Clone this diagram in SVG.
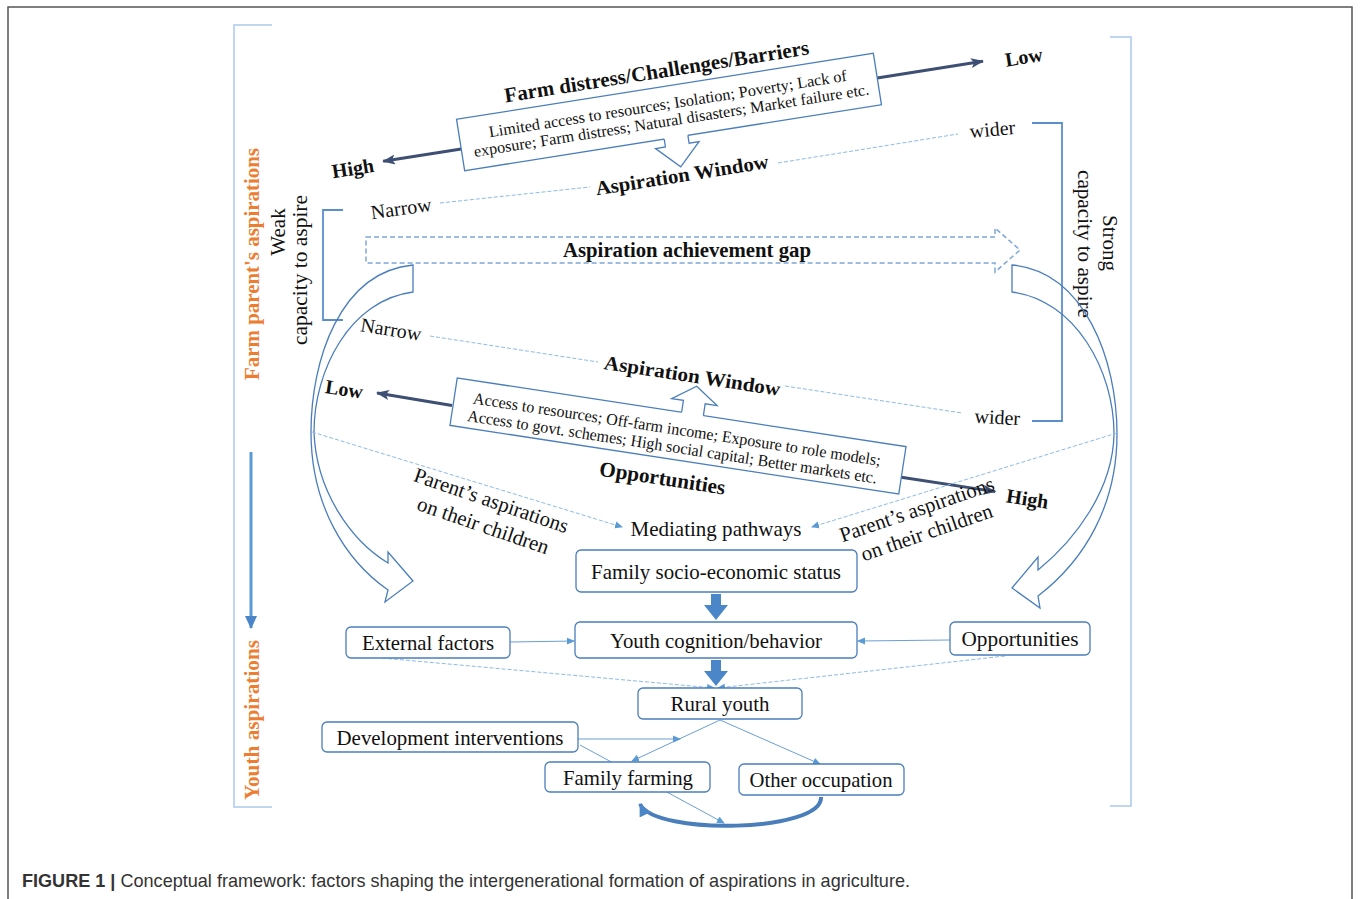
<svg xmlns="http://www.w3.org/2000/svg" width="1360" height="899" viewBox="0 0 1360 899">
<style>
.t{font-family:"Liberation Serif","Times New Roman",serif;fill:#111}
.b{font-weight:bold}
.box{fill:#fff;stroke:#4a7ebb;stroke-width:1.3}
.dl{fill:none;stroke:#8dbbe8;stroke-width:1;stroke-dasharray:4 2}
.ln{fill:none;stroke:#6a9fd6;stroke-width:1}
.br{fill:none;stroke:#5b8fcc;stroke-width:1.8}
.obr{fill:none;stroke:#a9c9ea;stroke-width:1.5}
.dk{fill:none;stroke:#3d4f72;stroke-width:3}
.ho{fill:none;stroke:#4a7ebb;stroke-width:1.3}
.cu{fill:none;stroke:#4a7ebb;stroke-width:1.3}
.or{font-family:"Liberation Serif","Times New Roman",serif;font-weight:bold;fill:#ed7d31;font-size:22px}
.cap{font-family:"Liberation Sans",Arial,sans-serif;fill:#333;font-size:19px}
</style>
<defs>
<marker id="mdk" markerUnits="userSpaceOnUse" markerWidth="14" markerHeight="10" refX="12" refY="5" orient="auto"><path d="M0,0 L13,5 L0,10 L3,5 Z" fill="#3d4f72"/></marker>
<marker id="ml" markerUnits="userSpaceOnUse" markerWidth="8" markerHeight="8" refX="7" refY="4" orient="auto"><path d="M0,0.5 L8,4 L0,7.5 Z" fill="#5b9bd5"/></marker>
<marker id="mb" markerUnits="userSpaceOnUse" markerWidth="14" markerHeight="12" refX="12" refY="6" orient="auto"><path d="M0,0 L13,6 L0,12 Z" fill="#4a86c8"/></marker>
</defs>

<rect x="8" y="7" width="1344" height="905" fill="none" stroke="#555" stroke-width="1.5"/>

<!-- outer brackets and side labels -->
<g id="side-left">
<path class="obr" d="M272,25 L234,25 L234,807 L272,807"/>
<text class="or" transform="translate(259,264) rotate(-90)" text-anchor="middle" textLength="232" lengthAdjust="spacingAndGlyphs">Farm parent's aspirations</text>
<text class="or" transform="translate(259,720) rotate(-90)" text-anchor="middle" textLength="160" lengthAdjust="spacingAndGlyphs">Youth aspirations</text>
<line x1="251" y1="452" x2="251" y2="628" stroke="#5b9bd5" stroke-width="3" marker-end="url(#mb)"/>
</g>
<g id="side-right">
<path class="obr" d="M1110,37 L1131,37 L1131,806 L1110,806"/>
</g>

<g id="weak">
<text class="t" font-size="21" transform="translate(285,232) rotate(-90)" text-anchor="middle">Weak</text>
<text class="t" font-size="21" transform="translate(307,270) rotate(-90)" text-anchor="middle" textLength="150" lengthAdjust="spacingAndGlyphs">capacity to aspire</text>
<path class="br" d="M343,210 L323,210 L323,320 L343,320"/>
</g>
<g id="strong">
<text class="t" font-size="21" transform="translate(1103,243) rotate(90)" text-anchor="middle">Strong</text>
<text class="t" font-size="21" transform="translate(1078,244) rotate(90)" text-anchor="middle" textLength="148" lengthAdjust="spacingAndGlyphs">capacity to aspire</text>
<path class="br" d="M1032,123 L1062,123 L1062,421 L1032,421"/>
</g>

<!-- top: challenges -->
<g id="challenges" transform="translate(669,112) rotate(-9)">
<line class="dk" x1="-211" y1="4" x2="-290" y2="4" marker-end="url(#mdk)"/>
<line class="dk" x1="211" y1="-1" x2="318" y2="-1" marker-end="url(#mdk)"/>
<rect class="box" x="-211" y="-26" width="422" height="52"/>
<path d="M-9,24 L15,24 L15,34 L25,34 L3,56 L-19,34 L-9,34 Z" fill="#fff"/>
<path class="cu" d="M-9,26 L-9,34 L-19,34 L3,56 L25,34 L15,34 L15,26"/>
<text class="t" font-size="16" x="0" y="-3" text-anchor="middle" textLength="362" lengthAdjust="spacingAndGlyphs">Limited access to resources; Isolation; Poverty; Lack of</text>
<text class="t" font-size="16" x="1" y="14" text-anchor="middle" textLength="400" lengthAdjust="spacingAndGlyphs">exposure; Farm distress; Natural disasters; Market failure etc.</text>
<text class="t b" font-size="21" x="-6" y="-35" text-anchor="middle" textLength="308" lengthAdjust="spacingAndGlyphs">Farm distress/Challenges/Barriers</text>
<text class="t b" font-size="20" x="-321" y="13" text-anchor="middle">High</text>
<text class="t b" font-size="20" x="359" y="8" text-anchor="middle">Low</text>
<text class="t b" font-size="20" x="3" y="71" text-anchor="middle" textLength="175" lengthAdjust="spacingAndGlyphs">Aspiration Window</text>
</g>
<g id="top-window">
<line class="dl" x1="440" y1="203" x2="590" y2="187"/>
<line class="dl" x1="778" y1="163" x2="958" y2="134"/>
<text class="t" font-size="20" transform="translate(402,215) rotate(-8)" text-anchor="middle">Narrow</text>
<text class="t" font-size="20" transform="translate(993,136) rotate(-5)" text-anchor="middle">wider</text>
</g>

<!-- aspiration achievement gap -->
<g id="gap">
<path d="M366,237 L995,237 L995,228 L1020,250 L995,272 L995,263 L366,263 Z" fill="none" stroke="#7ca6d8" stroke-width="1.5" stroke-dasharray="5 3"/>
<text class="t b" font-size="20" x="687" y="257" text-anchor="middle" textLength="248" lengthAdjust="spacingAndGlyphs">Aspiration achievement gap</text>
</g>

<!-- curved hollow arrows -->
<g id="curve-left">
<path class="ho" d="M413,265 C 340,272 311,360 311,432 C 311,505 345,560 388,590 L385,602 L413,581 L388,552 L388,563 C 350,540 316,490 314,432 C 314,370 350,300 413,292 Z"/>
</g>
<g id="curve-right">
<path class="ho" d="M1012,265 C 1085,272 1117,360 1117,434 C 1117,505 1085,560 1038,596 L1040,608 L1012,588 L1038,557 L1038,570 C 1075,540 1113,490 1114,434 C 1114,370 1075,300 1012,292 Z"/>
</g>

<!-- middle: opportunities -->
<g id="middle-window">
<line class="dl" x1="430" y1="336" x2="598" y2="362"/>
<line class="dl" x1="785" y1="386" x2="962" y2="413"/>
<text class="t" font-size="20" transform="translate(390,336) rotate(9)" text-anchor="middle">Narrow</text>
<text class="t" font-size="20" transform="translate(997,424) rotate(3)" text-anchor="middle">wider</text>
</g>
<g id="opportunities-box" transform="translate(678,436) rotate(8.7)">
<line class="dk" x1="-228" y1="4" x2="-304" y2="3" marker-end="url(#mdk)"/>
<line class="dk" x1="227" y1="7" x2="322" y2="7" marker-end="url(#mdk)"/>
<rect class="box" x="-227" y="-24" width="454" height="48"/>
<path d="M0,-22 L22,-22 L22,-36 L34,-36 L11,-52 L-12,-36 L0,-36 Z" fill="#fff"/>
<path class="cu" d="M0,-24 L0,-36 L-12,-36 L11,-52 L34,-36 L22,-36 L22,-24"/>
<text class="t" font-size="16.5" x="-2" y="-1" text-anchor="middle" textLength="412" lengthAdjust="spacingAndGlyphs">Access to resources; Off-farm income; Exposure to role models;</text>
<text class="t" font-size="16.5" x="-4" y="17" text-anchor="middle" textLength="414" lengthAdjust="spacingAndGlyphs">Access to govt. schemes; High social capital; Better markets etc.</text>
<text class="t b" font-size="21" x="-9" y="51" text-anchor="middle" textLength="127" lengthAdjust="spacingAndGlyphs">Opportunities</text>
<text class="t b" font-size="20" x="5" y="-55" text-anchor="middle" textLength="178" lengthAdjust="spacingAndGlyphs">Aspiration Window</text>
<text class="t b" font-size="20" x="-337" y="11" text-anchor="middle">Low</text>
<text class="t b" font-size="20" x="355" y="16" text-anchor="middle">High</text>
</g>

<!-- parent's aspirations -->
<g id="parents-left">
<text class="t" font-size="21" transform="translate(489,507) rotate(19)" text-anchor="middle" textLength="162" lengthAdjust="spacingAndGlyphs">Parent’s aspirations</text>
<text class="t" font-size="21" transform="translate(481,532) rotate(19)" text-anchor="middle" textLength="138" lengthAdjust="spacingAndGlyphs">on their children</text>
</g>
<g id="parents-right">
<text class="t" font-size="21" transform="translate(919,516) rotate(-19)" text-anchor="middle" textLength="162" lengthAdjust="spacingAndGlyphs">Parent’s aspirations</text>
<text class="t" font-size="21" transform="translate(929,539) rotate(-19)" text-anchor="middle" textLength="138" lengthAdjust="spacingAndGlyphs">on their children</text>
</g>

<!-- connectors -->
<g id="connectors">
<line class="dl" x1="312" y1="432" x2="622" y2="527" marker-end="url(#ml)"/>
<line class="dl" x1="1117" y1="433" x2="812" y2="527" marker-end="url(#ml)"/>
<path d="M711,594 L721,594 L721,605 L728,605 L716,620 L704,605 L711,605 Z" fill="#4a86c8"/>
<path d="M711,660 L721,660 L721,671 L728,671 L716,686 L704,671 L711,671 Z" fill="#4a86c8"/>
<line class="ln" x1="510" y1="642" x2="574" y2="641" marker-end="url(#ml)"/>
<line class="ln" x1="950" y1="640" x2="858" y2="641" marker-end="url(#ml)"/>
<line class="dl" x1="382" y1="658" x2="714" y2="688" marker-end="url(#ml)"/>
<line class="dl" x1="1005" y1="656" x2="718" y2="688" marker-end="url(#ml)"/>
<line class="ln" x1="720" y1="720" x2="632" y2="761" marker-end="url(#ml)"/>
<line class="ln" x1="720" y1="720" x2="820" y2="764" marker-end="url(#ml)"/>
<line class="ln" x1="578" y1="739" x2="680" y2="739" marker-end="url(#ml)"/>
<line class="ln" x1="580" y1="745" x2="724" y2="823" marker-end="url(#ml)"/>
<path d="M821,797 C 823,832 655,836 640,804" fill="none" stroke="#4a7ebb" stroke-width="4" marker-end="url(#mb)"/>
</g>

<text class="t" font-size="22" x="716" y="536" text-anchor="middle" textLength="171" lengthAdjust="spacingAndGlyphs">Mediating pathways</text>

<g id="family-ses">
<rect class="box" x="576" y="550" width="281" height="42" rx="5"/>
<text class="t" font-size="22" x="716" y="579" text-anchor="middle" textLength="250" lengthAdjust="spacingAndGlyphs">Family socio-economic status</text>
</g>
<g id="youth-cognition">
<rect class="box" x="575" y="622" width="282" height="36" rx="5"/>
<text class="t" font-size="22" x="716" y="648" text-anchor="middle" textLength="212" lengthAdjust="spacingAndGlyphs">Youth cognition/behavior</text>
</g>
<g id="external-factors">
<rect class="box" x="346" y="627" width="164" height="31" rx="5"/>
<text class="t" font-size="22" x="428" y="650" text-anchor="middle" textLength="132" lengthAdjust="spacingAndGlyphs">External factors</text>
</g>
<g id="opportunities-node">
<rect class="box" x="950" y="622" width="140" height="33" rx="5"/>
<text class="t" font-size="22" x="1020" y="646" text-anchor="middle" textLength="117" lengthAdjust="spacingAndGlyphs">Opportunities</text>
</g>
<g id="rural-youth">
<rect class="box" x="638" y="688" width="164" height="31" rx="5"/>
<text class="t" font-size="22" x="720" y="711" text-anchor="middle" textLength="99" lengthAdjust="spacingAndGlyphs">Rural youth</text>
</g>
<g id="dev-interventions">
<rect class="box" x="322" y="722" width="256" height="30" rx="5"/>
<text class="t" font-size="22" x="450" y="745" text-anchor="middle" textLength="227" lengthAdjust="spacingAndGlyphs">Development interventions</text>
</g>
<g id="family-farming">
<rect class="box" x="545" y="762" width="165" height="30" rx="5"/>
<text class="t" font-size="22" x="628" y="785" text-anchor="middle" textLength="130" lengthAdjust="spacingAndGlyphs">Family farming</text>
</g>
<g id="other-occupation">
<rect class="box" x="739" y="764" width="165" height="31" rx="5"/>
<text class="t" font-size="22" x="821" y="787" text-anchor="middle" textLength="143" lengthAdjust="spacingAndGlyphs">Other occupation</text>
</g>

<text class="cap" x="22" y="887" textLength="888" lengthAdjust="spacingAndGlyphs"><tspan font-weight="bold">FIGURE 1 |</tspan> Conceptual framework: factors shaping the intergenerational formation of aspirations in agriculture.</text>
</svg>
